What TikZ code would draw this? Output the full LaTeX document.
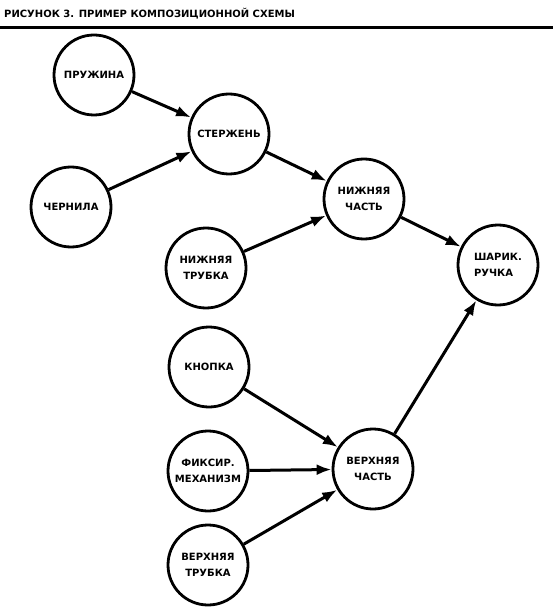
\documentclass[tikz,border=0pt]{standalone}
\usepackage{fontspec}
\setmainfont{DejaVu Sans}
\usepackage{tikz}
\usetikzlibrary{positioning}
\usetikzlibrary{arrows.meta}
\tikzset {
  x=1pt, y=-1pt,
  % circled part of the pen
  main/.style = {draw, circle, line width=2.8pt, minimum size=80pt, inner sep=0pt,
    align=center, font=\bfseries\fontsize{10}{16}\selectfont},
  % an edge from part to assembly
  link/.style = {-{Latex[length=15pt,width=11pt]}, line width=3pt},
  % caption on top
  title/.style = {anchor=base west, inner sep=0pt, font=\bfseries\fontsize{10}{12}\selectfont},
}

\begin{document}
\begin{tikzpicture}
        \useasboundingbox (0,0) rectangle (553,612);
        \node[title] (t) at (4,18) {РИСУНОК 3. ПРИМЕР КОМПОЗИЦИОННОЙ СХЕМЫ};
        \coordinate (rl) at (0,27.5);
        \coordinate (rr) at (553,27.5);
        \draw [line width=3.5pt] (rl) -- (rr);

        \node[main] (1) at (94,75) {ПРУЖИНА};
        \node[main] (2) at (229,134) {СТЕРЖЕНЬ};
        \node[main] (3) at (71,207) {ЧЕРНИЛА};
        \node[main] (4) at (364,199) {НИЖНЯЯ\\ЧАСТЬ};
        \node[main] (5) at (206,268) {НИЖНЯЯ\\ТРУБКА};
        \node[main, align=left] (6) at (498,265) {ШАРИК.\\РУЧКА};
        \node[main] (7) at (209,367) {КНОПКА};
        \node[main] (8) at (208,471) {ФИКСИР.\\МЕХАНИЗМ};
        \node[main] (9) at (373,469) {ВЕРХНЯЯ\\ЧАСТЬ};
        \node[main] (10) at (208,565) {ВЕРХНЯЯ\\ТРУБКА};

        \draw [link] (1) -- (2);
        \draw [link] (3) -- (2);
        \draw [link] (2) -- (4);
        \draw [link] (5) -- (4);
        \draw [link] (4) -- (6);
        \draw [link] (7) -- (9);
        \draw [link] (8) -- (9);
        \draw [link] (10) -- (9);
        \draw [link] (9) -- (6);
      \end{tikzpicture}
\end{document}
